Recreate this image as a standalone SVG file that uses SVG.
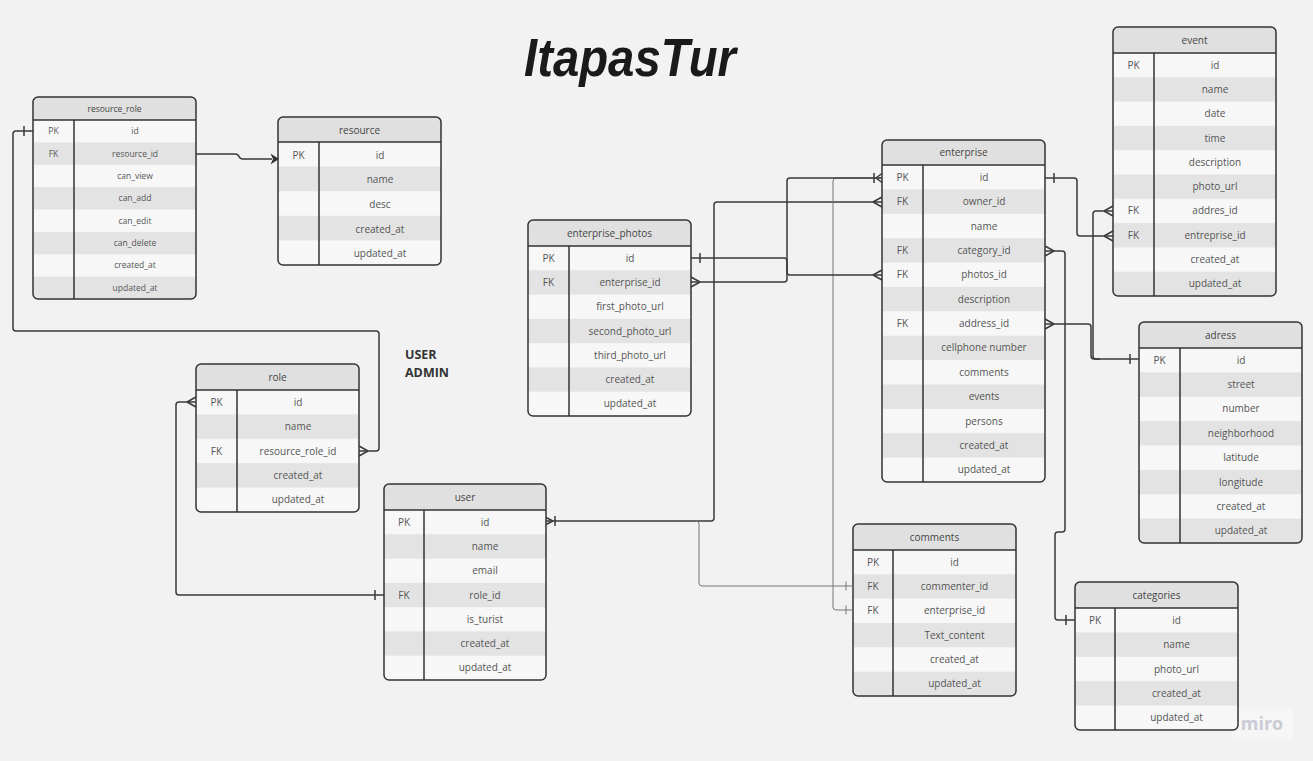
<svg xmlns="http://www.w3.org/2000/svg" width="1313" height="761" viewBox="0 0 1313 761">
<style>
.bg{fill:#f7f7f7}
.hd{fill:#e0e0e0}
.dk{fill:#e3e3e3}
.fr{fill:none;stroke:#333;stroke-width:1.5}
.ln{stroke:#333;stroke-width:1.5}
text{font-family:"Open Sans","Noto Sans","DejaVu Sans",sans-serif;font-size:10px;fill:#555;text-anchor:middle}
.h{fill:#444}
.s text{font-size:8.5px}
.cn{fill:none;stroke:#3a3a3a;stroke-width:1.5}
.cg{fill:none;stroke:#777;stroke-width:1}
.lbl{font-family:"Open Sans","Noto Sans",sans-serif;font-weight:bold;font-size:12.5px;fill:#333;text-anchor:start}
</style>
<defs>
<clipPath id="c1"><rect x="33" y="97" width="163" height="202" rx="5"/></clipPath>
<clipPath id="c2"><rect x="278" y="117" width="163" height="148" rx="5"/></clipPath>
<clipPath id="c3"><rect x="196" y="364" width="163" height="148" rx="5"/></clipPath>
<clipPath id="c4"><rect x="384" y="484" width="162" height="196" rx="5"/></clipPath>
<clipPath id="c5"><rect x="528" y="220" width="163" height="196" rx="5"/></clipPath>
<clipPath id="c6"><rect x="882" y="140" width="163" height="342" rx="5"/></clipPath>
<clipPath id="c7"><rect x="1113" y="27" width="163" height="269" rx="5"/></clipPath>
<clipPath id="c8"><rect x="1139" y="322" width="163" height="221" rx="5"/></clipPath>
<clipPath id="c9"><rect x="853" y="524" width="163" height="172" rx="5"/></clipPath>
<clipPath id="c10"><rect x="1075" y="582" width="163" height="148" rx="5"/></clipPath>
</defs>
<rect x="0" y="0" width="1313" height="761" fill="#f2f2f2"/>

<text x="630" y="76" style="font-family:'Liberation Sans',sans-serif;font-size:54px;font-weight:bold;font-style:italic;fill:#1a1a1a" textLength="212" lengthAdjust="spacingAndGlyphs">ItapasTur</text>
<text class="lbl" x="405" y="359">USER</text>
<text class="lbl" x="405" y="377">ADMIN</text>

<g id="watermark">
<rect x="1232" y="708" width="61" height="31" fill="#f6f6f6"/>
<text x="1262" y="730" style="font-family:'Open Sans',sans-serif;font-size:18px;font-weight:bold;fill:#cbcbd6">miro</text>
</g>

<g id="resource_role" class="s">
<rect class="bg" x="33" y="97" width="163" height="202" rx="5"/>
<g clip-path="url(#c1)">
<rect class="hd" x="33" y="97" width="163" height="23"/>
<rect class="dk" x="33" y="142.4" width="163" height="22.4"/>
<rect class="dk" x="33" y="187.1" width="163" height="22.4"/>
<rect class="dk" x="33" y="231.9" width="163" height="22.4"/>
<rect class="dk" x="33" y="276.6" width="163" height="22.4"/>
</g>
<line class="ln" x1="33" y1="120" x2="196" y2="120"/>
<line class="ln" x1="74" y1="120" x2="74" y2="299"/>
<rect class="fr" x="33" y="97" width="163" height="202" rx="5"/>
<text class="h" x="114.5" y="112">resource_role</text>
<text x="53.5" y="134.2">PK</text><text x="135" y="134.2">id</text>
<text x="53.5" y="156.6">FK</text><text x="135" y="156.6">resource_id</text>
<text x="135" y="179">can_view</text>
<text x="135" y="201.3">can_add</text>
<text x="135" y="223.7">can_edit</text>
<text x="135" y="246">can_delete</text>
<text x="135" y="268.4">created_at</text>
<text x="135" y="290.8">updated_at</text>
</g>

<g id="resource">
<rect class="bg" x="278" y="117" width="163" height="148" rx="5"/>
<g clip-path="url(#c2)">
<rect class="hd" x="278" y="117" width="163" height="25"/>
<rect class="dk" x="278" y="166.6" width="163" height="24.6"/>
<rect class="dk" x="278" y="215.8" width="163" height="24.6"/>
</g>
<line class="ln" x1="278" y1="142" x2="441" y2="142"/>
<line class="ln" x1="319" y1="142" x2="319" y2="265"/>
<rect class="fr" x="278" y="117" width="163" height="148" rx="5"/>
<text class="h" x="359.5" y="133.5">resource</text>
<text x="298.5" y="158.8">PK</text><text x="380" y="158.8">id</text>
<text x="380" y="183.4">name</text>
<text x="380" y="208">desc</text>
<text x="380" y="232.6">created_at</text>
<text x="380" y="257.2">updated_at</text>
</g>

<g id="role">
<rect class="bg" x="196" y="364" width="163" height="148" rx="5"/>
<g clip-path="url(#c3)">
<rect class="hd" x="196" y="364" width="163" height="26"/>
<rect class="dk" x="196" y="414.4" width="163" height="24.4"/>
<rect class="dk" x="196" y="463.2" width="163" height="24.4"/>
</g>
<line class="ln" x1="196" y1="390" x2="359" y2="390"/>
<line class="ln" x1="237" y1="390" x2="237" y2="512"/>
<rect class="fr" x="196" y="364" width="163" height="148" rx="5"/>
<text class="h" x="277.5" y="381">role</text>
<text x="216.5" y="405.7">PK</text><text x="298" y="405.7">id</text>
<text x="298" y="430.1">name</text>
<text x="216.5" y="454.5">FK</text><text x="298" y="454.5">resource_role_id</text>
<text x="298" y="478.9">created_at</text>
<text x="298" y="503.3">updated_at</text>
</g>

<g id="user">
<rect class="bg" x="384" y="484" width="162" height="196" rx="5"/>
<g clip-path="url(#c4)">
<rect class="hd" x="384" y="484" width="162" height="26"/>
<rect class="dk" x="384" y="534.3" width="162" height="24.3"/>
<rect class="dk" x="384" y="582.9" width="162" height="24.3"/>
<rect class="dk" x="384" y="631.4" width="162" height="24.3"/>
</g>
<line class="ln" x1="384" y1="510" x2="546" y2="510"/>
<line class="ln" x1="424" y1="510" x2="424" y2="680"/>
<rect class="fr" x="384" y="484" width="162" height="196" rx="5"/>
<text class="h" x="465" y="501">user</text>
<text x="404" y="525.6">PK</text><text x="485" y="525.6">id</text>
<text x="485" y="549.9">name</text>
<text x="485" y="574.2">email</text>
<text x="404" y="598.5">FK</text><text x="485" y="598.5">role_id</text>
<text x="485" y="622.8">is_turist</text>
<text x="485" y="647.1">created_at</text>
<text x="485" y="671.4">updated_at</text>
</g>

<g id="enterprise_photos">
<rect class="bg" x="528" y="220" width="163" height="196" rx="5"/>
<g clip-path="url(#c5)">
<rect class="hd" x="528" y="220" width="163" height="26"/>
<rect class="dk" x="528" y="270.3" width="163" height="24.3"/>
<rect class="dk" x="528" y="318.9" width="163" height="24.3"/>
<rect class="dk" x="528" y="367.4" width="163" height="24.3"/>
</g>
<line class="ln" x1="528" y1="246" x2="691" y2="246"/>
<line class="ln" x1="569" y1="246" x2="569" y2="416"/>
<rect class="fr" x="528" y="220" width="163" height="196" rx="5"/>
<text class="h" x="609.5" y="237">enterprise_photos</text>
<text x="548.5" y="261.6">PK</text><text x="630" y="261.6">id</text>
<text x="548.5" y="285.9">FK</text><text x="630" y="285.9">enterprise_id</text>
<text x="630" y="310.2">first_photo_url</text>
<text x="630" y="334.5">second_photo_url</text>
<text x="630" y="358.8">third_photo_url</text>
<text x="630" y="383.1">created_at</text>
<text x="630" y="407.4">updated_at</text>
</g>

<g id="enterprise">
<rect class="bg" x="882" y="140" width="163" height="342" rx="5"/>
<g clip-path="url(#c6)">
<rect class="hd" x="882" y="140" width="163" height="25"/>
<rect class="dk" x="882" y="189.4" width="163" height="24.4"/>
<rect class="dk" x="882" y="238.2" width="163" height="24.4"/>
<rect class="dk" x="882" y="286.9" width="163" height="24.4"/>
<rect class="dk" x="882" y="335.7" width="163" height="24.4"/>
<rect class="dk" x="882" y="384.5" width="163" height="24.4"/>
<rect class="dk" x="882" y="433.2" width="163" height="24.4"/>
</g>
<line class="ln" x1="882" y1="165" x2="1045" y2="165"/>
<line class="ln" x1="923" y1="165" x2="923" y2="482"/>
<rect class="fr" x="882" y="140" width="163" height="342" rx="5"/>
<text class="h" x="963.5" y="156">enterprise</text>
<text x="902.5" y="180.7">PK</text><text x="984" y="180.7">id</text>
<text x="902.5" y="205.1">FK</text><text x="984" y="205.1">owner_id</text>
<text x="984" y="229.5">name</text>
<text x="902.5" y="253.9">FK</text><text x="984" y="253.9">category_id</text>
<text x="902.5" y="278.2">FK</text><text x="984" y="278.2">photos_id</text>
<text x="984" y="302.6">description</text>
<text x="902.5" y="327">FK</text><text x="984" y="327">address_id</text>
<text x="984" y="351.4">cellphone number</text>
<text x="984" y="375.8">comments</text>
<text x="984" y="400.2">events</text>
<text x="984" y="424.5">persons</text>
<text x="984" y="448.9">created_at</text>
<text x="984" y="473.3">updated_at</text>
</g>

<g id="event">
<rect class="bg" x="1113" y="27" width="163" height="269" rx="5"/>
<g clip-path="url(#c7)">
<rect class="hd" x="1113" y="27" width="163" height="26"/>
<rect class="dk" x="1113" y="77.3" width="163" height="24.3"/>
<rect class="dk" x="1113" y="125.9" width="163" height="24.3"/>
<rect class="dk" x="1113" y="174.5" width="163" height="24.3"/>
<rect class="dk" x="1113" y="223.1" width="163" height="24.3"/>
<rect class="dk" x="1113" y="271.7" width="163" height="24.3"/>
</g>
<line class="ln" x1="1113" y1="53" x2="1276" y2="53"/>
<line class="ln" x1="1154" y1="53" x2="1154" y2="296"/>
<rect class="fr" x="1113" y="27" width="163" height="269" rx="5"/>
<text class="h" x="1194.5" y="44">event</text>
<text x="1133.5" y="68.6">PK</text><text x="1215" y="68.6">id</text>
<text x="1215" y="92.9">name</text>
<text x="1215" y="117.2">date</text>
<text x="1215" y="141.5">time</text>
<text x="1215" y="165.8">description</text>
<text x="1215" y="190.1">photo_url</text>
<text x="1133.5" y="214.4">FK</text><text x="1215" y="214.4">addres_id</text>
<text x="1133.5" y="238.7">FK</text><text x="1215" y="238.7">entreprise_id</text>
<text x="1215" y="263">created_at</text>
<text x="1215" y="287.3">updated_at</text>
</g>

<g id="adress">
<rect class="bg" x="1139" y="322" width="163" height="221" rx="5"/>
<g clip-path="url(#c8)">
<rect class="hd" x="1139" y="322" width="163" height="26"/>
<rect class="dk" x="1139" y="372.4" width="163" height="24.4"/>
<rect class="dk" x="1139" y="421.1" width="163" height="24.4"/>
<rect class="dk" x="1139" y="469.9" width="163" height="24.4"/>
<rect class="dk" x="1139" y="518.6" width="163" height="24.4"/>
</g>
<line class="ln" x1="1139" y1="348" x2="1302" y2="348"/>
<line class="ln" x1="1180" y1="348" x2="1180" y2="543"/>
<rect class="fr" x="1139" y="322" width="163" height="221" rx="5"/>
<text class="h" x="1220.5" y="339">adress</text>
<text x="1159.5" y="363.7">PK</text><text x="1241" y="363.7">id</text>
<text x="1241" y="388">street</text>
<text x="1241" y="412.4">number</text>
<text x="1241" y="436.8">neighborhood</text>
<text x="1241" y="461.2">latitude</text>
<text x="1241" y="485.6">longitude</text>
<text x="1241" y="509.9">created_at</text>
<text x="1241" y="534.3">updated_at</text>
</g>

<g id="comments">
<rect class="bg" x="853" y="524" width="163" height="172" rx="5"/>
<g clip-path="url(#c9)">
<rect class="hd" x="853" y="524" width="163" height="26"/>
<rect class="dk" x="853" y="574.3" width="163" height="24.3"/>
<rect class="dk" x="853" y="623" width="163" height="24.3"/>
<rect class="dk" x="853" y="671.7" width="163" height="24.3"/>
</g>
<line class="ln" x1="853" y1="550" x2="1016" y2="550"/>
<line class="ln" x1="893" y1="550" x2="893" y2="696"/>
<rect class="fr" x="853" y="524" width="163" height="172" rx="5"/>
<text class="h" x="934.5" y="541">comments</text>
<text x="873" y="565.6">PK</text><text x="954.5" y="565.6">id</text>
<text x="873" y="590">FK</text><text x="954.5" y="590">commenter_id</text>
<text x="873" y="614.3">FK</text><text x="954.5" y="614.3">enterprise_id</text>
<text x="954.5" y="638.6">Text_content</text>
<text x="954.5" y="663">created_at</text>
<text x="954.5" y="687.3">updated_at</text>
</g>

<g id="categories">
<rect class="bg" x="1075" y="582" width="163" height="148" rx="5"/>
<g clip-path="url(#c10)">
<rect class="hd" x="1075" y="582" width="163" height="26"/>
<rect class="dk" x="1075" y="632.4" width="163" height="24.4"/>
<rect class="dk" x="1075" y="681.2" width="163" height="24.4"/>
</g>
<line class="ln" x1="1075" y1="608" x2="1238" y2="608"/>
<line class="ln" x1="1115" y1="608" x2="1115" y2="730"/>
<rect class="fr" x="1075" y="582" width="163" height="148" rx="5"/>
<text class="h" x="1156.5" y="599">categories</text>
<text x="1095" y="623.7">PK</text><text x="1176.5" y="623.7">id</text>
<text x="1176.5" y="648.1">name</text>
<text x="1176.5" y="672.5">photo_url</text>
<text x="1176.5" y="696.9">created_at</text>
<text x="1176.5" y="721.3">updated_at</text>
</g>

<g id="connectors">
<path class="cn" d="M196,154 H235 Q238,154 239,156.5 Q240,159 243,159 H272"/>
<polygon points="279,159 270.5,153.5 273,159 270.5,164.5" fill="#333"/>

<path class="cn" d="M33,131 H16 Q13,131 13,134 V328 Q13,331 16,331 H376 Q379,331 379,334 V448 Q379,451 376,451 H359"/>
<path class="cn" d="M24,126 V136 M368,451 L359,446 M368,451 L359,456"/>

<path class="cn" d="M384,595 H179 Q176,595 176,592 V405 Q176,402 179,402 H196"/>
<path class="cn" d="M375,590 V600 M187,402 L196,397 M187,402 L196,407"/>

<path class="cn" d="M546,521 H711 Q714,521 714,518 V205 Q714,202 717,202 H882"/>
<path class="cn" d="M553,521 L546,517.5 M553,521 L546,524.5 M555,516 V526 M873,202 L882,197 M873,202 L882,207"/>

<path class="cg" d="M696,521 Q699,521 699,524 V583 Q699,586 702,586 H853 M846,581.5 V590.5"/>
<path class="cg" d="M882,178 H836 Q833,178 833,181 V607 Q833,610 836,610 H853 M846,605.5 V614.5"/>

<path class="cn" d="M691,258 H784 Q787,258 787,261 V272 Q787,275 790,275 H882"/>
<path class="cn" d="M700,253 V263 M873,275 L882,270 M873,275 L882,280"/>

<path class="cn" d="M691,282 H784 Q787,282 787,279 V181 Q787,178 790,178 H882"/>
<path class="cn" d="M700,282 L691,277 M700,282 L691,287 M874,173 V183 M876,178 L882,173.5 M876,178 L882,182.5"/>

<path class="cn" d="M1045,178 H1074 Q1077,178 1077,181 V233 Q1077,236 1080,236 H1113"/>
<path class="cn" d="M1054,173 V183 M1104,236 L1113,231 M1104,236 L1113,241"/>

<path class="cn" d="M1113,211 H1096 Q1093,211 1093,214 V356 Q1093,359 1096,359 H1139"/>
<path class="cn" d="M1104,211 L1113,206 M1104,211 L1113,216 M1130,354 V364"/>

<path class="cn" d="M1045,324 H1088 Q1091,324 1091,327 V356 Q1091,359 1094,359 H1100"/>
<path class="cn" d="M1054,324 L1045,319 M1054,324 L1045,329"/>

<path class="cn" d="M1045,251 H1062 Q1065,251 1065,254 V529 Q1065,532 1062,532 H1058 Q1055,532 1055,535 V617 Q1055,620 1058,620 H1075"/>
<path class="cn" d="M1054,251 L1045,246 M1054,251 L1045,256 M1066,615 V625"/>
</g>
</svg>
